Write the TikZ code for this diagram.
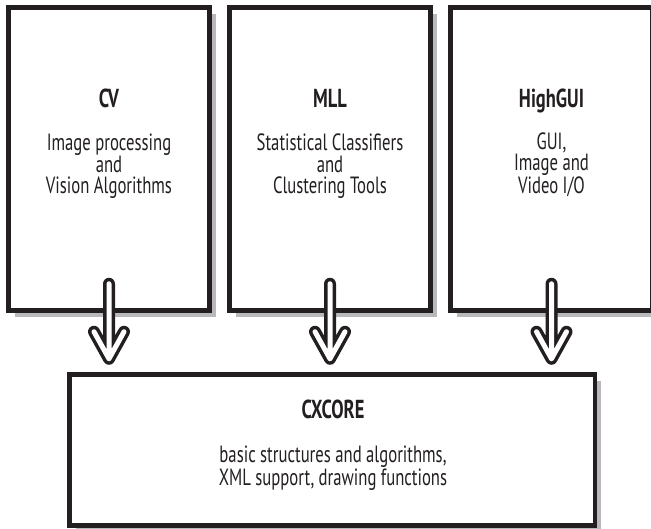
\documentclass[tikz,border=0pt]{standalone}
\usepackage{fontspec}
\setmainfont{PT Sans}[FakeStretch=0.71]
\usetikzlibrary{calc,shadows}
\definecolor{ink}{HTML}{231F20}
\definecolor{shade}{HTML}{B9B9BD}
\begin{document}
\begin{tikzpicture}[x=1pt,y=-1pt,
  modbox/.style={draw=ink, fill=white, line width=4.5pt, inner sep=0pt,
    drop shadow={shadow xshift=6pt, shadow yshift=-6pt, fill=shade, opacity=1}},
  ttl/.style={font=\fontsize{26}{26}\selectfont\bfseries, text=ink, anchor=base, inner sep=0pt},
  bodytxt/.style={font=\fontsize{23.5}{21.5}\selectfont, text=ink, align=center, anchor=base, inner sep=0pt},
  hollow/.style={draw=ink, line width=3.5pt, double=white, double distance=5pt,
    line cap=round, line join=round}]
\useasboundingbox (0,0) rectangle (651,528);
\node[modbox, minimum width=201pt, minimum height=303pt] (cv) at (109,159) {};
\node[modbox, minimum width=201pt, minimum height=303pt] (mll) at (330,159) {};
\node[modbox, minimum width=202pt, minimum height=303pt] (gui) at (551.5,159) {};
\node[modbox, minimum width=525.5pt, minimum height=151pt] (core) at (332.25,450) {};

\node[ttl] (cvt) at (109,107.5) {CV};
\node[bodytxt] (cvb) at (109,193.5) {Image processing\\and\\Vision Algorithms};
\node[ttl] (mllt) at (330,107.5) {MLL};
\node[bodytxt] (mllb) at (330,193.5) {Statistical Classifiers\\and\\Clustering Tools};
\node[ttl] (guit) at (551.5,107.5) {HighGUI};
\node[bodytxt] (guib) at (551.5,193.5) {GUI,\\Image and\\Video I/O};
\node[ttl] (coret) at (333,418) {CXCORE};
\node[bodytxt] (coreb) at (333,485) {basic structures and algorithms,\\XML support, drawing functions};

\foreach \m in {cv,mll,gui}{
  \coordinate (\m top) at ($(\m.south)+(0,-29)$);
  \coordinate (\m tip) at ($(\m.south |- core.north)+(0,-13.5)$);
  \draw[hollow] (\m top) -- (\m tip) ++(-15,-27) -- (\m tip) -- ++(15,-27);
}
\end{tikzpicture}
\end{document}
